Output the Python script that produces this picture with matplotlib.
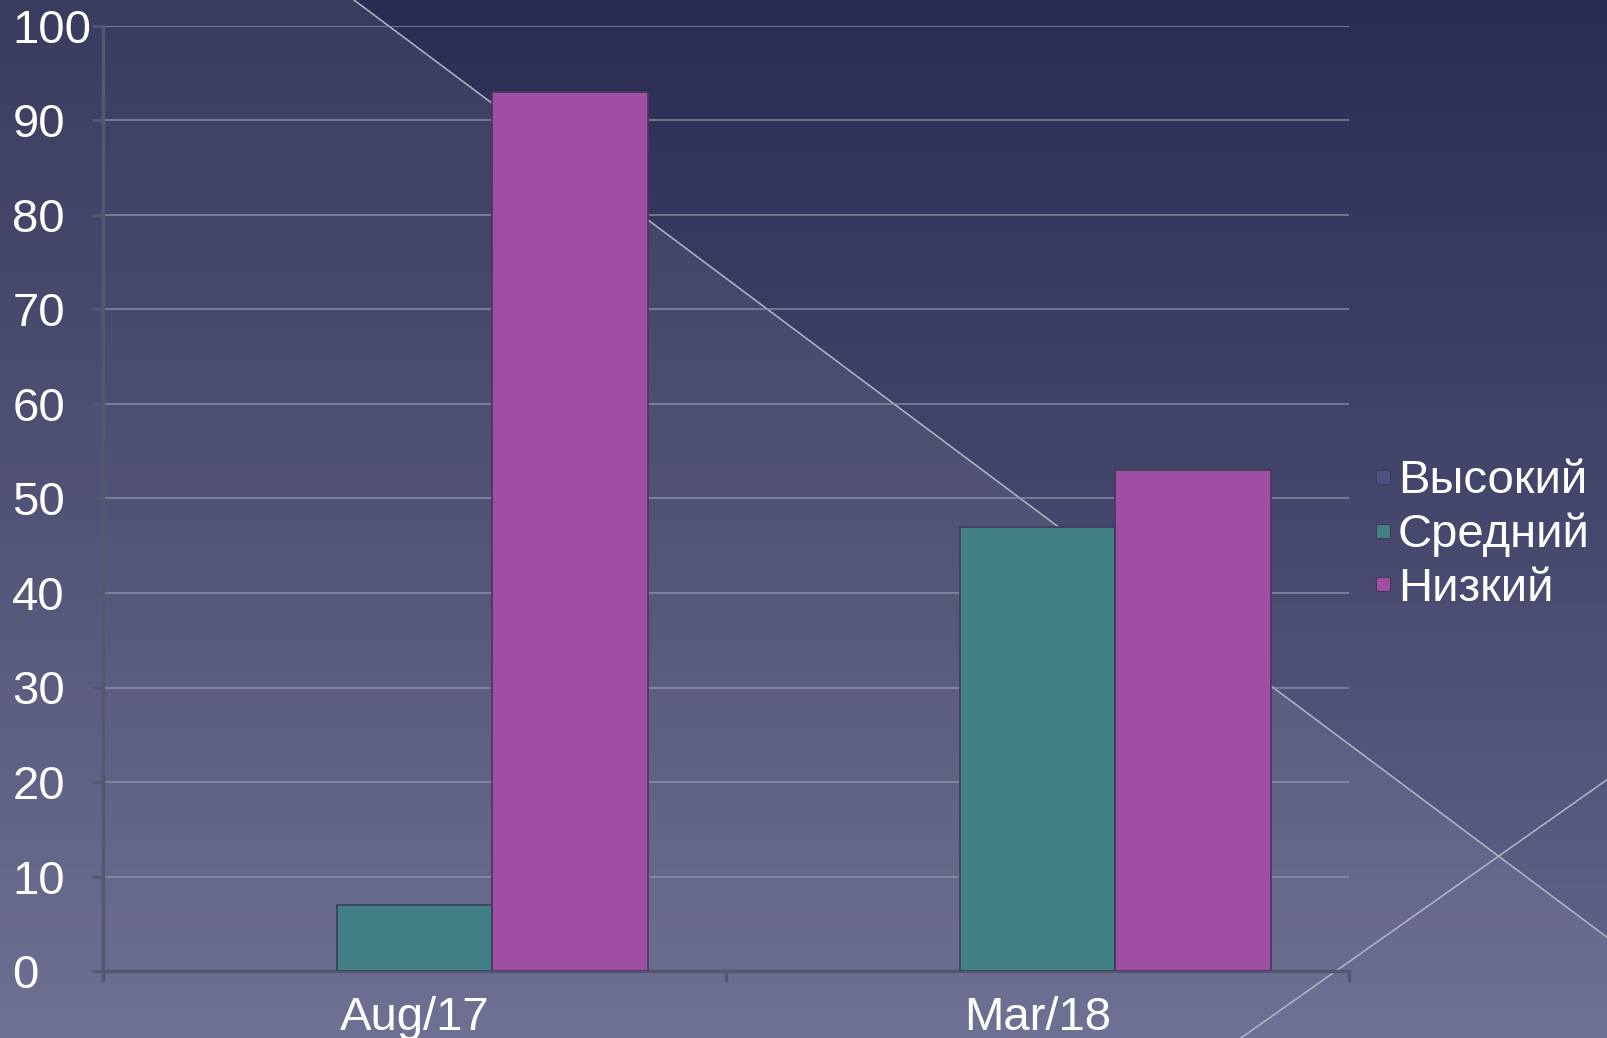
import numpy as np
import matplotlib
matplotlib.use("Agg")
import matplotlib.pyplot as plt
from matplotlib.colors import LinearSegmentedColormap
from matplotlib.lines import Line2D

categories = ["Aug/17", "Mar/18"]
series = ["Высокий", "Средний", "Низкий"]
high = [0, 0]
medium = [7, 47]
low = [93, 53]
colors = ["#4d5080", "#418084", "#a04ea4"]

plt.rcParams["font.family"] = ["Liberation Sans", "DejaVu Sans"]

W, H = 1608, 1038
fig = plt.figure(figsize=(W / 100, H / 100), dpi=100)

# background: vertical gradient + lighter triangle + thin diagonal lines
bg = fig.add_axes([0, 0, 1, 1])
bg.set_xlim(0, W)
bg.set_ylim(H, 0)
bg.axis("off")
grad = LinearSegmentedColormap.from_list("bg", ["#2a2c53", "#45476c", "#64668c"])
bg.imshow(np.linspace(0, 1, 256).reshape(-1, 1), cmap=grad, aspect="auto",
          extent=[0, W, H, 0], zorder=0)
bg.fill([354, 1608, 1608, 0, 0], [0, 938, H, H, 0], color="white", alpha=0.075,
        lw=0, zorder=1)
bg.plot([354, 1608], [0, 938], color="#b4b6c8", lw=1.1, zorder=2)
bg.plot([1608, 1241], [779, 1038], color="#b4b6c8", lw=1.1, zorder=2)

ax = fig.add_axes([103 / W, 1 - 971 / H, (1349 - 103) / W, (971 - 26) / H])
ax.set_facecolor("none")

x = np.arange(len(categories))
w = 0.25
edge = "#3b3d58"
ax.bar(x - w, high, w, color=colors[0], edgecolor=edge, lw=0, zorder=3)
ax.bar(x, medium, w, color=colors[1], edgecolor=edge, lw=1.2, zorder=3)
ax.bar(x + w, low, w, color=colors[2], edgecolor=edge, lw=1.2, zorder=3)

ax.set_xlim(-0.5, 1.5)
ax.set_ylim(0, 100)
ax.set_yticks(range(0, 101, 10))
ax.yaxis.grid(True, color="#9597ad", lw=1.3, alpha=0.7, zorder=1)
ax.set_axisbelow(True)

axis_col = "#55576e"
ax.set_xticks([-0.5, 0.5, 1.5])
ax.set_xticklabels([])
ax.set_xticks(x, minor=True)
ax.set_xticklabels(categories, minor=True)
ax.tick_params(axis="x", which="minor", length=0, pad=18, labelsize=34, labelcolor="white")
ax.tick_params(axis="x", which="major", length=8, width=2.5, color=axis_col)
ax.tick_params(axis="y", length=8, width=2, color=axis_col, labelsize=34,
               labelcolor="white", pad=6)
for lbl in ax.get_yticklabels():
    lbl.set_horizontalalignment("left")
    lbl.set_x(-0.0572)

for s in ["top", "right"]:
    ax.spines[s].set_visible(False)
for s in ["left", "bottom"]:
    ax.spines[s].set_color(axis_col)
    ax.spines[s].set_linewidth(2.5)

# small square legend keys
handles = [Line2D([], [], ls="none", marker="s", markersize=10, markerfacecolor=c,
                  markeredgecolor="#3b3d58", markeredgewidth=0.8) for c in colors]
fig.legend(handles, series, loc="center left", bbox_to_anchor=(1332 / W, 1 - 535 / H),
           frameon=False, fontsize=34, labelcolor="white", handlelength=0.35,
           handletextpad=0.15, labelspacing=0.2)

fig.savefig("out.png", dpi=100)
